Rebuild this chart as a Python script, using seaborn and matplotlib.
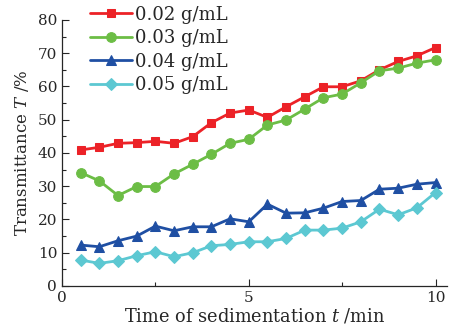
import numpy as np
import pandas as pd
import matplotlib
matplotlib.use("Agg")
import matplotlib.pyplot as plt
from matplotlib.ticker import MultipleLocator
import seaborn as sns

time_min = [0.5, 1.0, 1.5, 2.0, 2.5, 3.0, 3.5, 4.0, 4.5, 5.0,
            5.5, 6.0, 6.5, 7.0, 7.5, 8.0, 8.5, 9.0, 9.5, 10.0]
conc_002 = [40.9, 41.7, 42.9, 43.1, 43.5, 42.9, 44.9, 49.1, 52.0, 52.9,
            50.7, 53.9, 56.9, 59.9, 59.9, 61.7, 65.0, 67.5, 69.2, 71.7]
conc_003 = [34.1, 31.6, 27.2, 29.9, 29.9, 33.7, 36.6, 39.6, 42.9, 44.1,
            48.4, 49.9, 53.2, 56.6, 57.7, 61.1, 64.7, 65.5, 67.0, 68.0]
conc_004 = [12.3, 11.8, 13.6, 15.0, 18.0, 16.6, 17.8, 17.8, 20.2, 19.3,
            24.6, 21.9, 22.0, 23.4, 25.4, 25.7, 29.1, 29.4, 30.6, 31.1]
conc_005 = [7.8, 6.8, 7.6, 9.1, 10.3, 8.8, 10.0, 12.1, 12.5, 13.3,
            13.3, 14.3, 16.8, 16.8, 17.4, 19.3, 23.1, 21.4, 23.5, 28.1]
series_labels = ["0.02 g/mL", "0.03 g/mL", "0.04 g/mL", "0.05 g/mL"]

frames = []
for lab, vals in zip(series_labels, [conc_002, conc_003, conc_004, conc_005]):
    frames.append(pd.DataFrame({"t": time_min, "T": vals, "series": lab}))
df = pd.concat(frames, ignore_index=True)

sns.set_style("ticks")
plt.rcParams["font.family"] = ["DejaVu Serif"]
plt.rcParams["mathtext.fontset"] = "dejavuserif"

colors = {"0.02 g/mL": "#ec2227", "0.03 g/mL": "#6cbd45",
          "0.04 g/mL": "#1f4fa3", "0.05 g/mL": "#5cc8d2"}
markers = {"0.02 g/mL": "s", "0.03 g/mL": "o",
           "0.04 g/mL": "^", "0.05 g/mL": "D"}
sizes_m = {"0.02 g/mL": 6.2, "0.03 g/mL": 7, "0.04 g/mL": 7.8, "0.05 g/mL": 6}

fig = plt.figure(figsize=(4.51, 3.32), dpi=100)
ax = fig.add_axes([0.1375, 0.1386, 0.853, 0.8014])

for lab in series_labels:
    sub = df[df["series"] == lab]
    sns.lineplot(data=sub, x="t", y="T", ax=ax, color=colors[lab],
                 marker=markers[lab], markersize=sizes_m[lab],
                 markeredgecolor=colors[lab], linewidth=2.0, label=lab)

ax.set_xlim(0, 10.3)
ax.set_ylim(0, 80)
ax.xaxis.set_major_locator(MultipleLocator(5))
ax.xaxis.set_minor_locator(MultipleLocator(2.5))
ax.yaxis.set_major_locator(MultipleLocator(10))
ax.yaxis.set_minor_locator(MultipleLocator(5))
ax.tick_params(which="both", direction="in", labelsize=11, width=0.8)
ax.tick_params(which="major", length=5)
ax.tick_params(which="minor", length=3)
for s in ["top", "right"]:
    ax.spines[s].set_visible(False)
for s in ["left", "bottom"]:
    ax.spines[s].set_linewidth(0.9)

ax.set_xlabel("Time of sedimentation $t$ /min", fontsize=12.8, labelpad=1)
ax.set_ylabel("Transmittance $T$ /%", fontsize=12, labelpad=5)

ax.legend(loc="upper left", bbox_to_anchor=(0.073, 1.053), frameon=False,
          fontsize=13, handlelength=2.3, handletextpad=0.2,
          labelspacing=0.3, borderaxespad=0, borderpad=0)

fig.savefig("out.png", dpi=100)
